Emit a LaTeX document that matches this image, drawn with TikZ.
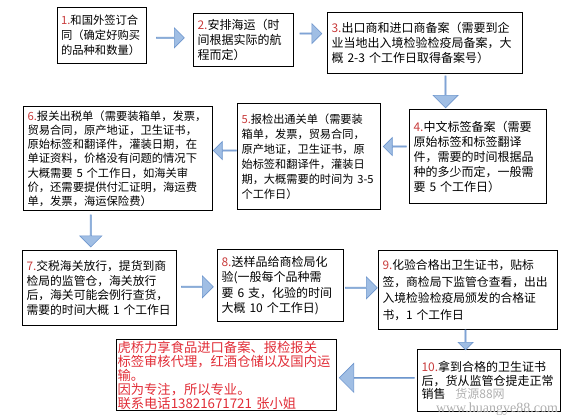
\documentclass[tikz,border=0pt]{standalone}
\usepackage{fontspec}
\setmainfont{Noto Sans CJK SC}
\newfontfamily\markfont{Liberation Serif}
\usepackage{xcolor}
\usepackage{tikz}
\usetikzlibrary{
  positioning,
  calc,
  shapes.arrows
}
\definecolor{NumRed}{RGB}{200,60,60}
\definecolor{AdRed}{RGB}{225,45,55}
\definecolor{ArrowFill}{RGB}{160,190,228}
\definecolor{ArrowEdge}{RGB}{110,150,205}
\definecolor{MarkGray}{RGB}{175,175,175}
\newcommand{\stepno}[1]{\textcolor{NumRed}{#1.}}

\begin{document}
\begin{tikzpicture}[x=1pt,y=-1pt,
  stepbox/.style={draw, line width=1.1pt, anchor=north west, align=left,
    inner sep=4pt, font=\fontsize{12}{15}\selectfont},
  blkarrow/.style={single arrow, draw=ArrowEdge, fill=ArrowFill,
    inner sep=0pt, line width=0.6pt}]
  \useasboundingbox (0,0) rectangle (569,418);

  % ---------- 第一行 ----------
  \node[stepbox, text width=82pt, inner xsep=3.5pt, minimum height=56pt,
    font=\fontsize{11.3}{15}\selectfont] (b1) at (57,7)
    {\stepno{1}和国外签订合\\同（确定好购买\\的品种和数量）};
  \node[stepbox, text width=92pt, minimum height=53pt] (b2) at (193,13)
    {\stepno{2}安排海运（时\\间根据实际的航\\程而定）};
  \node[stepbox, text width=187pt, minimum height=61pt] (b3) at (327,12)
    {\stepno{3}出口商和进口商备案（需要到企\\业当地出入境检验检疫局备案，大\\概 2-3 个工作日取得备案号）};

  % ---------- 第二行 ----------
  \node[stepbox, text width=129pt, minimum height=94pt] (b4) at (409,109)
    {\stepno{4}中文标签备案（需要\\原始标签和标签翻译\\件，需要的时间根据品\\种的多少而定，一般需\\要 5 个工作日）};
  \node[stepbox, text width=135pt, minimum height=106pt,
    font=\fontsize{11.2}{15}\selectfont] (b5) at (237,103)
    {\stepno{5}报检出通关单（需要装\\箱单，发票，贸易合同，\\原产地证，卫生证书，原\\始标签和翻译件，灌装日\\期，大概需要的时间为 3-5\\个工作日）};
  \node[stepbox, text width=181pt, minimum height=102pt,
    font=\fontsize{11.3}{14.2}\selectfont] (b6) at (23,106)
    {\stepno{6}报关出税单（需要装箱单，发票，\\贸易合同，原产地证，卫生证书，\\原始标签和翻译件，灌装日期，在\\单证资料，价格没有问题的情况下\\大概需要 5 个工作日，如海关审\\价，还需要提供付汇证明，海运费\\单，发票，海运保险费）};

  % ---------- 第三行 ----------
  \node[stepbox, text width=146pt, minimum height=75pt,
    font=\fontsize{11.8}{14.5}\selectfont] (b7) at (22,250)
    {\stepno{7}交税海关放行，提货到商\\检局的监管仓，海关放行\\后，海关可能会例行查货，\\需要的时间大概 1 个工作日};
  \node[stepbox, text width=118pt, minimum height=72pt,
    font=\fontsize{12}{15.5}\selectfont] (b8) at (217,249)
    {\stepno{8}送样品给商检局化\\验(一般每个品种需\\要 6 支，化验的时间\\大概 10 个工作日)};
  \node[stepbox, text width=171pt, minimum height=79pt,
    font=\fontsize{11.8}{16.5}\selectfont] (b9) at (378,250)
    {\stepno{9}化验合格出卫生证书，贴标\\签，商检局下监管仓查看，出出\\入境检验检疫局颁发的合格证\\书，1 个工作日};

  % ---------- 第四行 ----------
  \node[stepbox, text width=135pt, minimum height=62pt,
    font=\fontsize{12}{13.5}\selectfont] (b10) at (417,349)
    {\stepno{10}拿到合格的卫生证书\\后，货从监管仓提走正常\\销售};
  \node[stepbox, text width=218pt, inner sep=1pt, minimum height=71pt,
    text=AdRed, font=\fontsize{13.3}{14}\selectfont] (ad) at (116,339)
    {虎桥力享食品进口备案、报检报关\\标签审核代理，红酒仓储以及国内运\\输。\\因为专注，所以专业。\\联系电话13821671721 张小姐};

  % 水印
  \node[MarkGray, inner sep=0pt, font=\fontsize{12}{12}\selectfont] (wm1) at (480,394) {货源88网};
  \node[MarkGray, inner sep=0pt, font=\markfont\fontsize{14}{14}\selectfont] (wm2) at (497,409)
    {www.huangye88.com};

  % ---------- 箭头 ----------
  \node[blkarrow, minimum height=28pt, minimum width=20pt,
    single arrow head extend=5.5pt] (a12) at ($(b1.east)!0.5!(b2.west)$) {};
  \node[blkarrow, yshift=8pt, minimum height=22pt, minimum width=20pt,
    single arrow head extend=5.5pt] (a23) at ($(b2.east)!0.5!(b3.west)$) {};
  \node[blkarrow, xshift=-6pt, rotate=-90, minimum height=32pt, minimum width=25pt,
    single arrow head extend=6pt] (a34) at ($(b3.south)!0.5!(b4.north)$) {};
  \node[blkarrow, yshift=10pt, rotate=180, minimum height=23pt, minimum width=18pt,
    single arrow head extend=4.5pt] (a45) at ($(b4.west)!0.5!(b5.east)$) {};
  \node[blkarrow, yshift=7pt, rotate=180, minimum height=23pt, minimum width=18pt,
    single arrow head extend=4.5pt] (a56) at ($(b5.west)!0.5!(b6.east)$) {};
  \node[blkarrow, xshift=-18pt, rotate=-90, minimum height=32pt, minimum width=22pt,
    single arrow head extend=5pt] (a67) at ($(b6.south)!0.5!(b7.north)$) {};
  \node[blkarrow, minimum height=32pt, minimum width=22pt,
    single arrow head extend=6pt] (a78) at ($(b7.east)!0.5!(b8.west)$) {};
  \node[blkarrow, minimum height=32pt, minimum width=22pt,
    single arrow head extend=6pt] (a89) at ($(b8.east)!0.5!(b9.west)$) {};
  \node[blkarrow, xshift=-13pt, rotate=-90, minimum height=20pt, minimum width=15pt,
    single arrow head extend=3.5pt] (a910) at ($(b9.south)!0.5!(b10.north)$) {};
  \node[blkarrow, rotate=180, minimum height=75pt, minimum width=29pt,
    single arrow head extend=9pt] (a10ad) at ($(b10.west)!0.5!(ad.east)$) {};
\end{tikzpicture}
\end{document}
